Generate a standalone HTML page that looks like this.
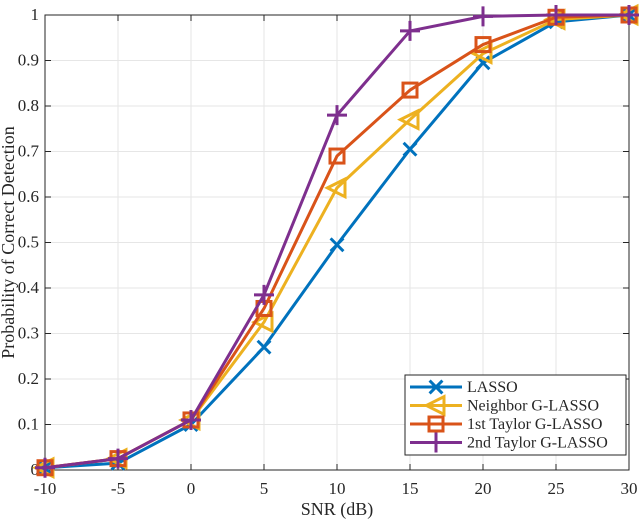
<!DOCTYPE html>
<html><head><meta charset="utf-8"><style>
body{margin:0;background:#fff}
svg text{font-family:"Liberation Serif",serif;fill:#262626}
</style></head><body>
<svg id="c" width="640" height="523" viewBox="0 0 640 523" xmlns="http://www.w3.org/2000/svg"></svg>
<script>
const snr=[-10,-5,0,5,10,15,20,25,30];
const lasso=[0.005,0.015,0.1,0.27,0.495,0.705,0.895,0.985,1.0];
const neighbor=[0.005,0.025,0.11,0.325,0.62,0.77,0.915,0.99,1.0];
const taylor1=[0.005,0.025,0.11,0.355,0.69,0.835,0.935,0.995,1.0];
const taylor2=[0.005,0.025,0.11,0.385,0.78,0.965,0.997,1.0,1.0];
const xTicks=[-10,-5,0,5,10,15,20,25,30];
const yTicks=[0,0.1,0.2,0.3,0.4,0.5,0.6,0.7,0.8,0.9,1];
const yTickLabels=['0','0.1','0.2','0.3','0.4','0.5','0.6','0.7','0.8','0.9','1'];
const names=['LASSO','Neighbor G-LASSO','1st Taylor G-LASSO','2nd Taylor G-LASSO'];

const L=45,R=629,T=15,B=470;
const X=v=>L+(v+10)/40*(R-L);
const Y=v=>B-v*(B-T);
const svg=document.getElementById('c');
const NS='http://www.w3.org/2000/svg';
function mk(tag,attrs,parent){const e=document.createElementNS(NS,tag);for(const k in attrs)e.setAttribute(k,attrs[k]);(parent||svg).appendChild(e);return e;}

xTicks.forEach(t=>{const g=mk('line',{x1:X(t),x2:X(t),y1:T,y2:B,stroke:'#e6e6e6','stroke-width':1});

});
yTicks.forEach(t=>{const g=mk('line',{x1:L,x2:R,y1:Y(t),y2:Y(t),stroke:'#e6e6e6','stroke-width':1});

});
const box=mk('rect',{x:L,y:T,width:R-L,height:B-T,fill:'none',stroke:'#262626','stroke-width':1});


xTicks.forEach(t=>{
 mk('line',{x1:X(t),x2:X(t),y1:B,y2:B-6,stroke:'#262626'});
 mk('line',{x1:X(t),x2:X(t),y1:T,y2:T+6,stroke:'#262626'});
 const tx=mk('text',{x:X(t),y:B+24,'text-anchor':'middle','font-size':17});tx.textContent=t;
 
 
});
yTicks.forEach((t,i)=>{
 mk('line',{x1:L,x2:L+6,y1:Y(t),y2:Y(t),stroke:'#262626'});
 mk('line',{x1:R,x2:R-6,y1:Y(t),y2:Y(t),stroke:'#262626'});
 const tx=mk('text',{x:L-6,y:Y(t)+5,'text-anchor':'end','font-size':17});tx.textContent=yTickLabels[i];
 
 
});
const xl=mk('text',{x:(L+R)/2,y:515,'text-anchor':'middle','font-size':18});xl.textContent='SNR (dB)';


const yl=mk('text',{x:0,y:0,'text-anchor':'middle','font-size':18,transform:`translate(14,${(T+B)/2}) rotate(-90)`});yl.textContent='Probability of Correct Detection';



function marker(type,x,y,col,g){
 const s=8;
 if(type==='x'){mk('path',{d:`M${x-s*0.8} ${y-s*0.8}L${x+s*0.8} ${y+s*0.8}M${x-s*0.8} ${y+s*0.8}L${x+s*0.8} ${y-s*0.8}`,stroke:col,'stroke-width':3,fill:'none'},g);}
 if(type==='tri'){mk('path',{d:`M${x-s*1.2} ${y}L${x+s} ${y-s*1.1}L${x+s} ${y+s*1.1}Z`,stroke:col,'stroke-width':3,fill:'none'},g);}
 if(type==='sq'){mk('rect',{x:x-s+1,y:y-s+1,width:2*s-2,height:2*s-2,stroke:col,'stroke-width':3,fill:'none'},g);}
 if(type==='plus'){mk('path',{d:`M${x-s-2} ${y}L${x+s+2} ${y}M${x} ${y-s-2}L${x} ${y+s+2}`,stroke:col,'stroke-width':3,fill:'none'},g);}
}
const series=[[lasso,'#0072BD','x','series-lasso'],[neighbor,'#EDB120','tri','series-neighbor'],[taylor1,'#D95319','sq','series-1st-taylor'],[taylor2,'#7E2F8E','plus','series-2nd-taylor']];
series.forEach(([d,col,m,nm])=>{
 const g=mk('g',{});
 
 
 mk('polyline',{points:d.map((v,i)=>X(snr[i])+','+Y(v)).join(' '),fill:'none',stroke:col,'stroke-width':3,'stroke-linejoin':'round'},g);
 d.forEach((v,i)=>marker(m,X(snr[i]),Y(v),col,g));
});
const lg=mk('g',{});


mk('rect',{x:405,y:375,width:221,height:80,fill:'#fff',stroke:'#262626','stroke-width':1},lg);
series.forEach(([d,col,m,nm],i)=>{
 const y=387+i*18.5;
 const e=mk('g',{},lg);
 
 
 mk('line',{x1:410,x2:462,y1:y,y2:y,stroke:col,'stroke-width':3},e);
 marker(m,436,y,col,e);
 const t=mk('text',{x:467,y:y+5,'font-size':16},e);t.textContent=names[i];
});
</script>
</body></html>
